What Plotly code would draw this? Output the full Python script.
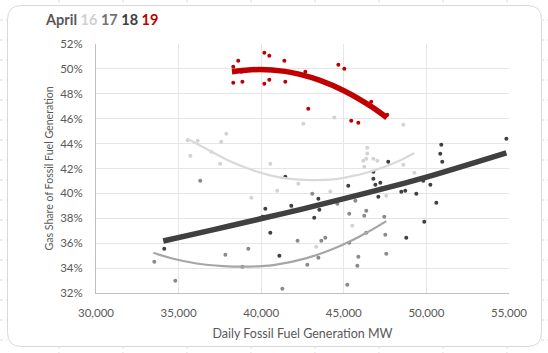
import plotly.graph_objects as go

# ---------------- data ----------------
# daily points: x = daily fossil fuel generation (MW), y = gas share (%)
x16 = [35550, 36160, 37890, 37580, 35710, 36980, 37520, 40550, 39400, 40970, 42250, 41880,
       42550, 44420, 48600, 46420, 46420, 46180, 46360, 46790, 47030, 46240, 48600, 44180,
       47570, 45510, 43330, 47270, 49270]
y16 = [44.27, 44.23, 44.79, 44.15, 43.02, 43.34, 42.38, 42.38, 39.65, 40.21, 40.77, 38.77,
       45.59, 46.10, 45.51, 43.66, 43.21, 42.62, 42.78, 42.78, 42.62, 42.14, 42.30, 40.16,
       39.81, 37.40, 35.72, 40.45, 41.66]

x17 = [33530, 34800, 36310, 37830, 39220, 38860, 41280, 43090, 44610, 45700, 45330, 46240,
       46360, 47450, 47510, 46360, 45330, 43640, 43880, 43460, 42790, 45880, 45820, 47570,
       45210, 42200]
y17 = [34.51, 32.98, 41.01, 35.07, 35.55, 34.11, 32.34, 39.97, 39.17, 39.41, 38.36, 38.20,
       38.61, 38.12, 36.68, 36.84, 36.04, 36.20, 36.44, 34.83, 34.27, 34.91, 34.19, 35.15,
       32.66, 36.20]

x18 = [34130, 40250, 40090, 40550, 41460, 41820, 41100, 47690, 46790, 46790, 46910,
       47210, 47090, 45270, 43460, 43520, 43210, 48480, 48720, 48780, 49390, 49810, 50240,
       50600, 49870, 50900, 50840, 50960, 54840]
y18 = [35.55, 38.77, 38.12, 36.84, 41.34, 39.01, 34.99, 42.54, 41.74, 41.18, 40.69,
       40.85, 39.73, 40.61, 39.57, 38.69, 38.04, 40.13, 40.21, 36.44, 39.97, 41.01, 40.69,
       39.25, 37.72, 43.91, 43.18, 42.54, 44.39]

x19 = [38310, 38610, 38310, 38860, 38800, 40190, 40490, 40190, 40490, 41400, 41460, 42670,
       42850, 44670, 45030, 46660, 45450, 45880, 47630]
y19 = [50.17, 50.65, 48.88, 48.96, 49.77, 51.29, 51.05, 48.80, 49.13, 50.65, 48.96, 49.77,
       46.80, 50.33, 50.01, 47.36, 45.83, 45.67, 46.31]

# trendlines (polynomial trend curves as drawn in the reference, read at several x)
tx16 = [35490, 36980, 38110, 39320, 40530, 41740, 43000, 44370, 45570, 46790, 48400, 49270]
ty16 = [44.42, 43.36, 42.58, 41.94, 41.45, 41.16, 41.06, 41.12, 41.40, 41.82, 42.65, 43.25]

tx17 = [33470, 34680, 36090, 37700, 38910, 40730, 42750, 44770, 46380, 47570]
ty17 = [35.23, 34.75, 34.37, 34.16, 34.11, 34.24, 34.80, 35.78, 36.84, 37.77]

tx18 = [34070, 37000, 40030, 42350, 45020, 48400, 50000, 54840]
ty18 = [36.18, 37.05, 37.98, 38.70, 39.58, 40.73, 41.30, 43.25]

tx19 = [38230, 39930, 41440, 42350, 43560, 45010, 46650, 47610]
ty19 = [49.77, 49.95, 49.80, 49.56, 49.08, 48.25, 46.99, 46.08]

years = ["2016", "2017", "2018", "2019"]
x_ticks = [30000, 35000, 40000, 45000, 50000, 55000]
y_ticks = [32, 34, 36, 38, 40, 42, 44, 46, 48, 50, 52]

# ---------------- styles ----------------
W, H = 548, 353
L, R, T, B = 96, 39, 44, 60
PW, PH = W - L - R, H - T - B
FONT = "Lato"

series = [
    (x16, y16, tx16, ty16, "#d3d3d3", "#d9d9d9", 2.25),
    (x17, y17, tx17, ty17, "#8a8a8a", "#a6a6a6", 2.25),
    (x18, y18, tx18, ty18, "#404040", "#404040", 5.5),
    (x19, y19, tx19, ty19, "#c00000", "#c00000", 5.5),
]

fig = go.Figure()
for (xs, ys, txs, tys, mc, lc, lw), name in zip(series, years):
    fig.add_trace(go.Scatter(x=xs, y=ys, mode="markers", name=name,
                             marker=dict(size=4, color=mc), showlegend=False))
for (xs, ys, txs, tys, mc, lc, lw), name in zip(series, years):
    fig.add_trace(go.Scatter(x=txs, y=tys, mode="lines", name=name + " trend",
                             line=dict(color=lc, width=lw, shape="spline", smoothing=1.0),
                             showlegend=False, hoverinfo="skip"))


def px(xp):
    return (xp - L) / PW


def py(yp):
    return (H - B - yp) / PH


shapes = []
# faint spreadsheet gridlines outside the card
for cx in [59, 123, 187, 251, 315, 379, 443, 507]:
    for (a, b) in [(0, 5), (346, 353)]:
        shapes.append(dict(type="line", xref="paper", yref="paper",
                           x0=px(cx), x1=px(cx), y0=py(a), y1=py(b),
                           line=dict(color="#dcdcdc", width=1, dash="dot"), layer="below"))
for ry in list(range(20, 353, 20)):
    for (a, b) in [(0, 7), (541, 548)]:
        shapes.append(dict(type="line", xref="paper", yref="paper",
                           x0=px(a), x1=px(b), y0=py(ry), y1=py(ry),
                           line=dict(color="#dcdcdc", width=1, dash="dot"), layer="below"))
# rounded card border
x0, x1, y0, y1, r = 7.5, 541.5, 5.5, 346.5, 14
path = (f"M {px(x0 + r)},{py(y0)} L {px(x1 - r)},{py(y0)} "
        f"Q {px(x1)},{py(y0)} {px(x1)},{py(y0 + r)} L {px(x1)},{py(y1 - r)} "
        f"Q {px(x1)},{py(y1)} {px(x1 - r)},{py(y1)} L {px(x0 + r)},{py(y1)} "
        f"Q {px(x0)},{py(y1)} {px(x0)},{py(y1 - r)} L {px(x0)},{py(y0 + r)} "
        f"Q {px(x0)},{py(y0)} {px(x0 + r)},{py(y0)} Z")
shapes.append(dict(type="path", path=path, xref="paper", yref="paper",
                   line=dict(color="#d9d9d9", width=1), fillcolor="rgba(0,0,0,0)", layer="below"))

title = ("<b><span style='color:#595959'>April</span> "
         "<span style='color:#d0d0d0'>16</span> "
         "<span style='color:#737373'>17</span> "
         "<span style='color:#404040'>18</span> "
         "<span style='color:#c00000'>19</span></b>")

fig.update_layout(
    width=W, height=H,
    margin=dict(l=L, r=R, t=T, b=B, pad=0),
    paper_bgcolor="white", plot_bgcolor="rgba(0,0,0,0)",
    font=dict(family=FONT, color="#595959", size=11),
    shapes=shapes,
    annotations=[dict(text=title, xref="paper", yref="paper", x=px(43), y=py(20),
                      xanchor="left", yanchor="middle", showarrow=False,
                      font=dict(family=FONT, size=14.5))],
    xaxis=dict(range=[30000, 55000], tickvals=x_ticks,
               ticktext=[f"{v:,}" for v in x_ticks],
               showgrid=True, gridcolor="#e6e6e6", gridwidth=1,
               showline=True, linecolor="#bfbfbf", linewidth=1,
               zeroline=False, ticks="", ticklabelstandoff=9,
               tickfont=dict(size=11.5, color="#595959"),
               title=dict(text="Daily Fossil Fuel Generation MW", standoff=11,
                          font=dict(size=12.5, color="#595959"))),
    yaxis=dict(range=[32, 52], tickvals=y_ticks,
               ticktext=[f"{v}%" for v in y_ticks],
               showgrid=True, gridcolor="#e6e6e6", gridwidth=1,
               showline=True, linecolor="#bfbfbf", linewidth=1,
               zeroline=False, ticks="", ticklabelstandoff=10,
               tickfont=dict(size=11.5, color="#595959"),
               title=dict(text="Gas Share of Fossil Fuel Generation", standoff=4,
                          font=dict(size=10.6, color="#595959"))),
)

fig.write_html("out.html")
